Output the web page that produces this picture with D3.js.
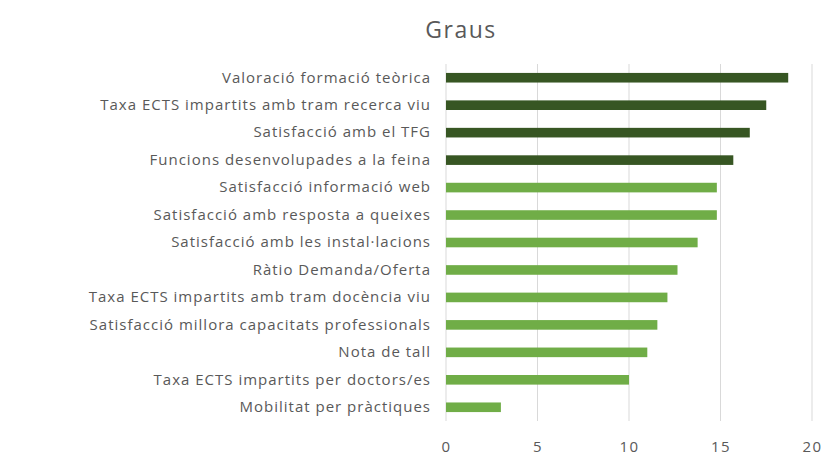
<!DOCTYPE html>
<html>
<head>
<meta charset="utf-8">
<script src="https://d3js.org/d3.v7.min.js"></script>
<style>
body{margin:0;background:#fff;}
text{font-family:"Open Sans",sans-serif;fill:#595959;}
</style>
</head>
<body>
<script>
var width = 824, height = 455;
var categories = [
"Valoració formació teòrica",
"Taxa ECTS impartits amb tram recerca viu",
"Satisfacció amb el TFG",
"Funcions desenvolupades a la feina",
"Satisfacció informació web",
"Satisfacció amb resposta a queixes",
"Satisfacció amb les instal·lacions",
"Ràtio Demanda/Oferta",
"Taxa ECTS impartits amb tram docència viu",
"Satisfacció millora capacitats professionals",
"Nota de tall",
"Taxa ECTS impartits per doctors/es",
"Mobilitat per pràctiques"
];
var values = [18.7, 17.5, 16.6, 15.7, 14.8, 14.8, 13.75, 12.65, 12.1, 11.55, 11.0, 10.0, 3.0];
var highlighted = [true, true, true, true, false, false, false, false, false, false, false, false, false];
var ticks = [0, 5, 10, 15, 20];

var plotLeft = 446, plotRight = 812, plotTop = 64, plotBottom = 421;

var svg = d3.select("body").append("svg")
.attr("width", width).attr("height", height);

var x = d3.scaleLinear().domain([0, 20]).range([plotLeft, plotRight]);
var y = d3.scaleBand().domain(categories).range([plotTop, plotBottom]).paddingInner(0.65).paddingOuter(0.325);

// grid
svg.append("g").selectAll("line").data(ticks).enter().append("line")
.attr("x1", function(d){return x(d);}).attr("x2", function(d){return x(d);})
.attr("y1", plotTop).attr("y2", plotBottom)
.style("stroke", "#d9d9d9").style("stroke-width", 1);

// bars
svg.append("g").selectAll("rect").data(values).enter().append("rect")
.attr("x", x(0))
.attr("y", function(d, i){return y(categories[i]);})
.attr("width", function(d){return x(d) - x(0);})
.attr("height", y.bandwidth())
.style("fill", function(d, i){return highlighted[i] ? "#375623" : "#70ad47";});

// category labels
var yaxis = d3.axisLeft(y).tickSize(0).tickPadding(15);
var ga = svg.append("g").attr("transform", "translate(" + plotLeft + ",0)").call(yaxis);
ga.select(".domain").remove();
ga.selectAll("text").style("font-size", "15px").style("letter-spacing", "1px")
.style("fill", "#595959").style("font-family", "'Open Sans',sans-serif");

// x axis
var xaxis = d3.axisBottom(x).tickValues(ticks).tickSize(0).tickPadding(20);
var gx = svg.append("g").attr("transform", "translate(0," + plotBottom + ")").call(xaxis);
gx.select(".domain").remove();
gx.selectAll("text").style("font-size", "15px").style("letter-spacing", "1.5px")
.style("fill", "#595959").style("font-family", "'Open Sans',sans-serif");

// title
svg.append("text").attr("x", 461).attr("y", 38).attr("text-anchor", "middle")
.style("font-size", "23px").style("letter-spacing", "1.5px").text("Graus");
</script>
</body>
</html>
